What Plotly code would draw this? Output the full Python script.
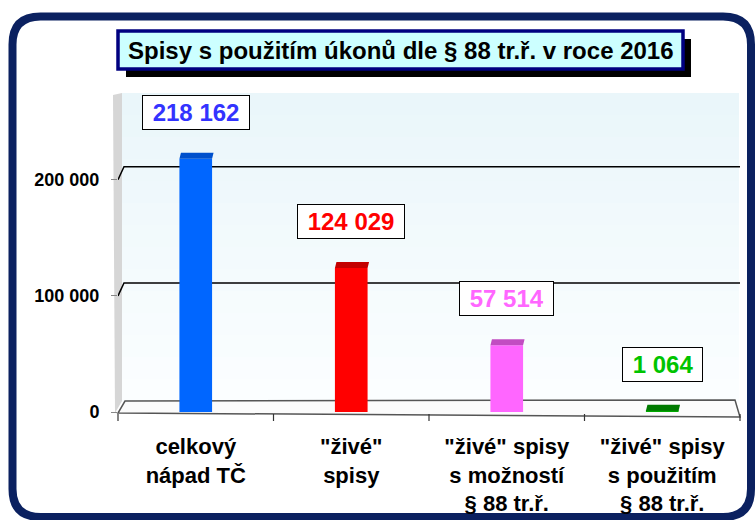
import plotly.graph_objects as go

# ---------------- data ----------------
categories = ['celkový<br>nápad TČ',
              '"živé"<br>spisy',
              '"živé" spisy<br>s možností<br>§ 88 tr.ř.',
              '"živé" spisy<br>s použitím<br>§ 88 tr.ř.']
values = [218162, 124029, 57514, 1064]
bar_colors = ['#0066ff', '#ff0000', '#ff66ff', '#00a800']
top_colors = ['#0050cc', '#c40000', '#c24dc2', '#007a00']
label_colors = ['#3333ff', '#ff0000', '#ff66ff', '#00c400']
y_tickvals = [0, 100000, 200000]
y_ticktext = ['0', '100 000', '200 000']
title_text = 'Spisy s použitím úkonů dle § 88 tr.ř. v roce 2016'

# ---------------- layout geometry ----------------
W, H = 755, 520
ML, MR, MT, MB = 118, 15, 95, 108
PW = W - ML - MR
PH = H - MT - MB
YMAX = 273000
XMIN, XMAX = -0.5, len(values) - 0.5
y_per_px = YMAX / PH
x_per_px = (XMAX - XMIN) / PW
BAR_W = 0.21


def px(x):
    return (x - ML) / PW


def py(y):
    return (H - MB - y) / PH


def fmt(v):
    return f"{v:,}".replace(",", " ")


def mix(c1, c2, t):
    a = [int(c1[i:i + 2], 16) for i in (1, 3, 5)]
    b = [int(c2[i:i + 2], 16) for i in (1, 3, 5)]
    return '#' + ''.join(f"{round(a[k] + (b[k] - a[k]) * t):02x}" for k in range(3))


shapes = []

# outer rounded frame
L, R, T, B, r = 12.5, 751, 16.5, 517, 28
frame_path = (
    f"M {px(L + r)},{py(T)} L {px(R - r)},{py(T)} Q {px(R)},{py(T)} {px(R)},{py(T + r)} "
    f"L {px(R)},{py(B - r)} Q {px(R)},{py(B)} {px(R - r)},{py(B)} "
    f"L {px(L + r)},{py(B)} Q {px(L)},{py(B)} {px(L)},{py(B - r)} "
    f"L {px(L)},{py(T + r)} Q {px(L)},{py(T)} {px(L + r)},{py(T)} Z"
)
shapes.append(dict(type='path', xref='paper', yref='paper', path=frame_path,
                   line=dict(color='#0b2160', width=8), layer='below'))

# title box shadow + box
shapes.append(dict(type='rect', xref='paper', yref='paper',
                   x0=px(126), x1=px(691), y0=py(39), y1=py(77),
                   fillcolor='black', line=dict(width=0), layer='below'))
shapes.append(dict(type='rect', xref='paper', yref='paper',
                   x0=px(118), x1=px(683), y0=py(31), y1=py(69),
                   fillcolor='#ccffff', line=dict(color='#000080', width=3.5), layer='below'))

# back wall (soft vertical gradient)
wall_top, wall_bot = 93, 401
n_bands = 14
for k in range(n_bands):
    y0 = wall_top + (wall_bot - wall_top) * k / n_bands
    y1 = wall_top + (wall_bot - wall_top) * (k + 1) / n_bands + 0.6
    shapes.append(dict(type='rect', xref='paper', yref='paper',
                       x0=px(122), x1=px(739), y0=py(y0), y1=py(y1),
                       fillcolor=mix('#eaf6fa', '#fbfeff', k / (n_bands - 1)),
                       line=dict(width=0), layer='below'))
# left side wall
shapes.append(dict(type='path', xref='paper', yref='paper',
                   path=f"M {px(113)},{py(95)} L {px(122)},{py(93)} L {px(122)},{py(401)} L {px(115)},{py(413)} Z",
                   fillcolor='#d6d6d6', line=dict(width=0), layer='below'))
# floor
shapes.append(dict(type='path', xref='paper', yref='paper',
                   path=f"M {px(118)},{py(413)} L {px(740)},{py(417)} L {px(735)},{py(400)} L {px(125)},{py(401)} Z",
                   fillcolor='#fbfbfb', line=dict(color='#555555', width=1.5), layer='below'))

# gridlines (with 3D offset) at non-zero ticks
depth_y = 13 * y_per_px
depth_x = 6 * x_per_px
for v in y_tickvals[1:]:
    shapes.append(dict(type='path', xref='x', yref='y',
                       path=f"M {XMIN},{v} L {XMIN + depth_x},{v + depth_y} L {XMAX},{v + depth_y}",
                       line=dict(color='black', width=1.5), layer='below'))

# category boundary ticks
for k in range(len(values) + 1):
    xb = ML + k * PW / len(values)
    shapes.append(dict(type='line', xref='paper', yref='paper',
                       x0=px(xb), x1=px(xb), y0=py(414), y1=py(421),
                       line=dict(color='#333333', width=1.2)))

# bar top faces
top_d = 6 * y_per_px
top_dx = 1.5 * x_per_px
for i, v in enumerate(values):
    x0, x1 = i - BAR_W / 2, i + BAR_W / 2
    shapes.append(dict(type='path', xref='x', yref='y',
                       path=f"M {x0},{v} L {x0 + top_dx},{v + top_d} L {x1 + top_dx},{v + top_d} L {x1},{v} Z",
                       fillcolor=top_colors[i], line=dict(width=0), layer='above'))

fig = go.Figure()
fig.add_trace(go.Bar(x=list(range(len(values))), y=values, width=BAR_W,
                     marker=dict(color=bar_colors, line=dict(width=0)),
                     hoverinfo='skip'))

annotations = []
for i, v in enumerate(values):
    annotations.append(dict(x=i, y=v, xref='x', yref='y', yanchor='bottom', yshift=29,
                            text=f"<b>\u00a0{fmt(v)}\u00a0</b>", showarrow=False,
                            font=dict(size=24, color=label_colors[i], family='Liberation Sans, Arial'),
                            bgcolor='white', bordercolor='black', borderwidth=1, borderpad=3))

annotations.append(dict(x=px(400.5), y=py(50), xref='paper', yref='paper',
                        xanchor='center', yanchor='middle',
                        text=f"<b>{title_text}</b>", showarrow=False,
                        font=dict(size=24, color='black', family='Liberation Sans, Arial')))

fig.update_layout(
    width=W, height=H,
    margin=dict(l=ML, r=MR, t=MT, b=MB, pad=0, autoexpand=False),
    paper_bgcolor='white', plot_bgcolor='rgba(0,0,0,0)',
    showlegend=False,
    font=dict(family='Liberation Sans, Arial', color='black'),
    shapes=shapes, annotations=annotations,
    xaxis=dict(range=[XMIN, XMAX], tickmode='array', tickvals=list(range(len(values))),
               ticktext=categories, ticks='', showgrid=False, zeroline=False, showline=False,
               tickfont=dict(size=22, weight='bold'), ticklabelstandoff=19, fixedrange=True,
               automargin=False),
    yaxis=dict(range=[0, YMAX], tickmode='array', tickvals=y_tickvals, ticktext=y_ticktext,
               ticks='outside', ticklen=6, tickcolor='#888888', showgrid=False, zeroline=False,
               showline=False, tickfont=dict(size=18, weight='bold'), ticklabelstandoff=8,
               fixedrange=True, automargin=False),
)

fig.write_html("out.html", config={'displayModeBar': False},
               post_script="document.body.style.margin='0';document.body.style.overflow='hidden';")
